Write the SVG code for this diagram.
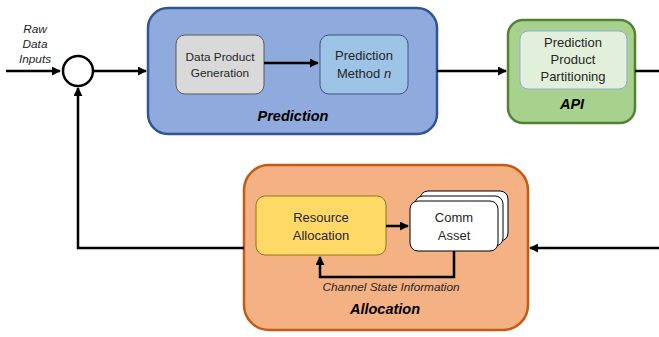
<svg xmlns="http://www.w3.org/2000/svg" width="659" height="337" viewBox="0 0 659 337">
<defs>
<marker id="ah" viewBox="0 0 10 10" refX="9" refY="5" markerWidth="3.6" markerHeight="3.6" orient="auto" markerUnits="strokeWidth">
<path d="M0,0 L10,5 L0,10 z" fill="#000"/>
</marker>
</defs>
<style>
text{font-family:"Liberation Sans",Arial,sans-serif;fill:#262626;text-anchor:middle}
.lbl{font-size:13px}
.sm{font-size:11.8px}
.title{font-size:14.5px;font-weight:bold;font-style:italic;fill:#000}
.it{font-style:italic}
.conn{fill:none;stroke:#000;stroke-width:2.5}
</style>
<rect width="659" height="337" fill="#fff"/>
<g id="raw-input">
<text class="it" style="font-size:11.8px" x="35" y="33">Raw</text>
<text class="it" style="font-size:11.8px" x="35" y="48">Data</text>
<text class="it" style="font-size:11.8px" x="35" y="63">Inputs</text>
</g>
<g id="sum">
<circle cx="78" cy="71" r="15" fill="#fff" stroke="#000" stroke-width="2.5"/>
</g>
<g id="prediction">
<rect x="148" y="8" width="289" height="126" rx="20" fill="#8faadc" stroke="#2f5597" stroke-width="2.5"/>
<text class="title" x="293" y="121">Prediction</text>
</g>
<g id="data-product-generation">
<rect x="176" y="35" width="88" height="59" rx="9" fill="#d9d9d9" stroke="#595959" stroke-width="1"/>
<text class="sm" x="220" y="61">Data Product</text>
<text class="sm" x="220" y="77">Generation</text>
</g>
<g id="prediction-method">
<rect x="320" y="35" width="88" height="59" rx="9" fill="#9dc3e6" stroke="#41547a" stroke-width="1"/>
<text class="lbl" x="364" y="60">Prediction</text>
<text class="lbl" x="364" y="78">Method <tspan font-style="italic">n</tspan></text>
</g>
<g id="api">
<rect x="508" y="20" width="127" height="103" rx="15" fill="#a9d18e" stroke="#548235" stroke-width="2.5"/>
<text class="title" x="572" y="109">API</text>
</g>
<g id="prediction-product-partitioning">
<rect x="520" y="31" width="107" height="58" rx="8" fill="#e2efda" stroke="#8faadc" stroke-width="1"/>
<text class="lbl" x="573" y="47">Prediction</text>
<text class="lbl" x="573" y="64">Product</text>
<text class="lbl" x="573" y="81">Partitioning</text>
</g>
<g id="allocation">
<rect x="244" y="165" width="284" height="165" rx="25" fill="#f4b183" stroke="#c55a11" stroke-width="2.5"/>
<text class="title" x="385" y="314">Allocation</text>
<text class="it" style="font-size:11.8px" x="391" y="291">Channel State Information</text>
</g>
<g id="resource-allocation">
<rect x="256" y="196" width="130" height="59" rx="9" fill="#ffd966" stroke="#7f6000" stroke-width="0.8"/>
<text class="lbl" x="321" y="222">Resource</text>
<text class="lbl" x="321" y="240">Allocation</text>
</g>
<g id="comm-asset">
<rect x="420" y="191" width="88" height="50" rx="8" fill="#fff" stroke="#000" stroke-width="1"/>
<rect x="415" y="196" width="88" height="50" rx="8" fill="#fff" stroke="#000" stroke-width="1"/>
<rect x="410" y="201" width="88" height="50" rx="8" fill="#fff" stroke="#000" stroke-width="1"/>
<text class="lbl" x="454" y="222">Comm</text>
<text class="lbl" x="454" y="240">Asset</text>
</g>
<g id="connectors">
<path class="conn" d="M6,71 L60,71" marker-end="url(#ah)"/>
<path class="conn" d="M93,71 L146,71" marker-end="url(#ah)"/>
<path class="conn" d="M264,63 L318,63" marker-end="url(#ah)"/>
<path class="conn" d="M437,71 L506,71" marker-end="url(#ah)"/>
<path class="conn" d="M635,71 L659,71"/>
<path class="conn" d="M659,248 L530,248" marker-end="url(#ah)"/>
<path class="conn" d="M244,248 L78,248 L78,88" marker-end="url(#ah)"/>
<path class="conn" d="M386,226 L408,226" marker-end="url(#ah)"/>
<path class="conn" d="M454,251 L454,277 L320,277 L320,257" marker-end="url(#ah)"/>
</g>
</svg>
